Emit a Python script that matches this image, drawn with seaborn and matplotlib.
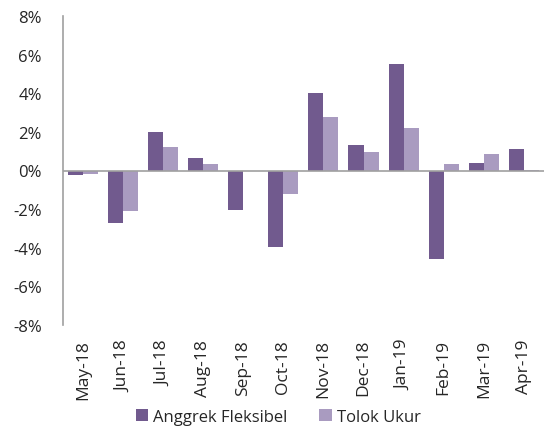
import matplotlib
matplotlib.use("Agg")
import matplotlib.pyplot as plt
import seaborn as sns
import pandas as pd
from matplotlib.ticker import FuncFormatter

months = ["May-18", "Jun-18", "Jul-18", "Aug-18", "Sep-18", "Oct-18",
          "Nov-18", "Dec-18", "Jan-19", "Feb-19", "Mar-19", "Apr-19"]
anggrek = [-0.24, -2.72, 2.00, 0.67, -2.03, -3.97, 4.00, 1.33, 5.50, -4.57, 0.40, 1.12]
tolok = [-0.19, -2.08, 1.20, 0.36, 0.00, -1.22, 2.79, 0.95, 2.20, 0.33, 0.83, 0.05]
series_names = ["Anggrek Fleksibel", "Tolok Ukur"]
colors = ["#715A8E", "#A99BC0"]

df = pd.DataFrame({
    "month": months * 2,
    "value": anggrek + tolok,
    "series": [series_names[0]] * len(months) + [series_names[1]] * len(months),
})

sns.set_style("white")
plt.rcParams["font.family"] = ["Open Sans", "DejaVu Sans"]

fig = plt.figure(figsize=(5.44, 4.27), dpi=100)
ax = fig.add_axes([62.7 / 544, 1 - 326 / 427, (544 - 62.7) / 544, (326 - 17) / 427])

sns.barplot(data=df, x="month", y="value", hue="series", palette=colors,
            width=0.75, ax=ax, saturation=1, legend=True, linewidth=0)

ax.set_ylim(-8, 8)
ax.set_xlim(-0.5, 11.5)
ax.set_yticks(range(-8, 9, 2))
ax.yaxis.set_major_formatter(FuncFormatter(lambda v, p: f"{v:.0f}%"))
ax.axhline(0, color="#a0a0a0", lw=1.2, zorder=3)
for s in ["top", "right", "bottom"]:
    ax.spines[s].set_visible(False)
ax.spines["left"].set_color("#a0a0a0")
ax.spines["left"].set_linewidth(1.2)
ax.tick_params(axis="y", length=0, pad=15, labelsize=12)
ax.tick_params(axis="x", length=0, pad=10, labelsize=12.5, rotation=90)
ax.set_xlabel("")
ax.set_ylabel("")

leg = ax.legend(loc="center", bbox_to_anchor=(278 / 544, 1 - 418 / 427),
                bbox_transform=fig.transFigure, ncol=2, frameon=False,
                fontsize=12, handlelength=0.75, handleheight=0.75,
                handletextpad=0.3, columnspacing=1.9)

fig.savefig("out.png", dpi=100)
